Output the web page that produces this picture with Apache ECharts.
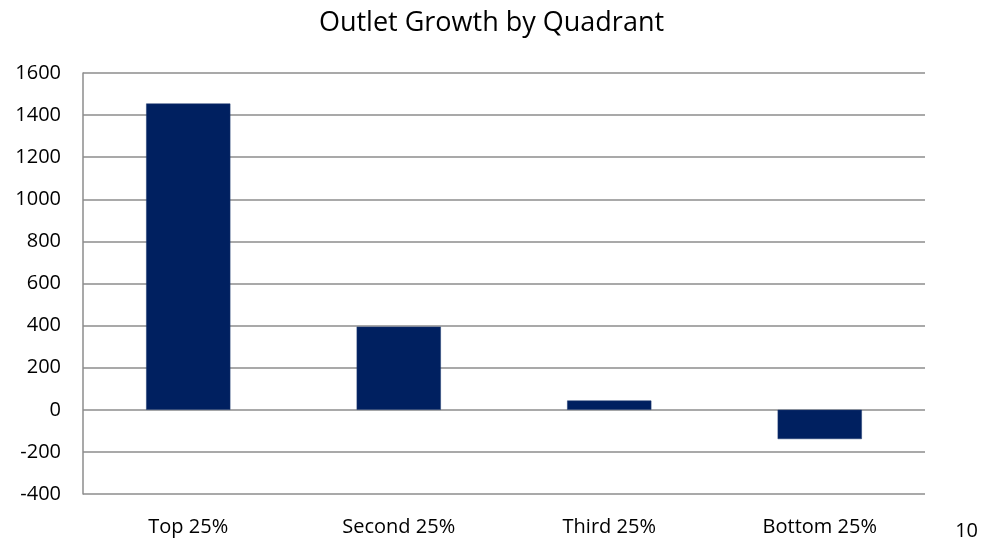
<!DOCTYPE html>
<html>
<head>
<meta charset="utf-8">
<script src="https://cdn.jsdelivr.net/npm/echarts@6/dist/echarts.min.js"></script>
<style>
  html, body { margin: 0; padding: 0; background: #fff; }
  #chart { width: 983px; height: 540px; }
</style>
</head>
<body>
<div id="chart"></div>
<script>
// Outlet growth per quadrant
const categories = ['Top 25%', 'Second 25%', 'Third 25%', 'Bottom 25%'];
const growthValues = [1455, 395, 44, -139];
const yTicks = { min: -400, max: 1600, step: 200 };

const chart = echarts.init(document.getElementById('chart'));
const font = '"Open Sans", "Noto Sans", sans-serif';

chart.setOption({
  animation: false,
  backgroundColor: '#ffffff',
  title: {
    text: 'Outlet Growth by Quadrant',
    left: 'center',
    top: 5,
    textStyle: { fontFamily: font, fontSize: 27, fontWeight: 'normal', color: '#000' }
  },
  grid: { left: 83, right: 58, top: 73, bottom: 46, containLabel: false },
  xAxis: {
    type: 'category',
    data: categories,
    position: 'bottom',
    axisLine: { show: false },
    axisTick: { show: false },
    axisLabel: { fontFamily: font, fontSize: 20, color: '#000', margin: 23 }
  },
  yAxis: {
    type: 'value',
    min: yTicks.min,
    max: yTicks.max,
    interval: yTicks.step,
    axisLine: { show: true, lineStyle: { color: '#8c8c8c', width: 1.5 } },
    axisTick: { show: false },
    axisLabel: {
      fontFamily: font, fontSize: 20, color: '#000', margin: 22,
      formatter: v => String(v)
    },
    splitLine: { show: true, lineStyle: { color: '#8c8c8c', width: 1.5 } }
  },
  series: [{
    type: 'bar',
    data: growthValues,
    barWidth: '40%',
    itemStyle: { color: '#002060', borderColor: '#1f3a70', borderWidth: 0.5 }
  }],
  graphic: [{
    type: 'text',
    right: 5,
    bottom: -1,
    style: { text: '10', font: '20px ' + font, fill: '#000' }
  }]
});
</script>
</body>
</html>
